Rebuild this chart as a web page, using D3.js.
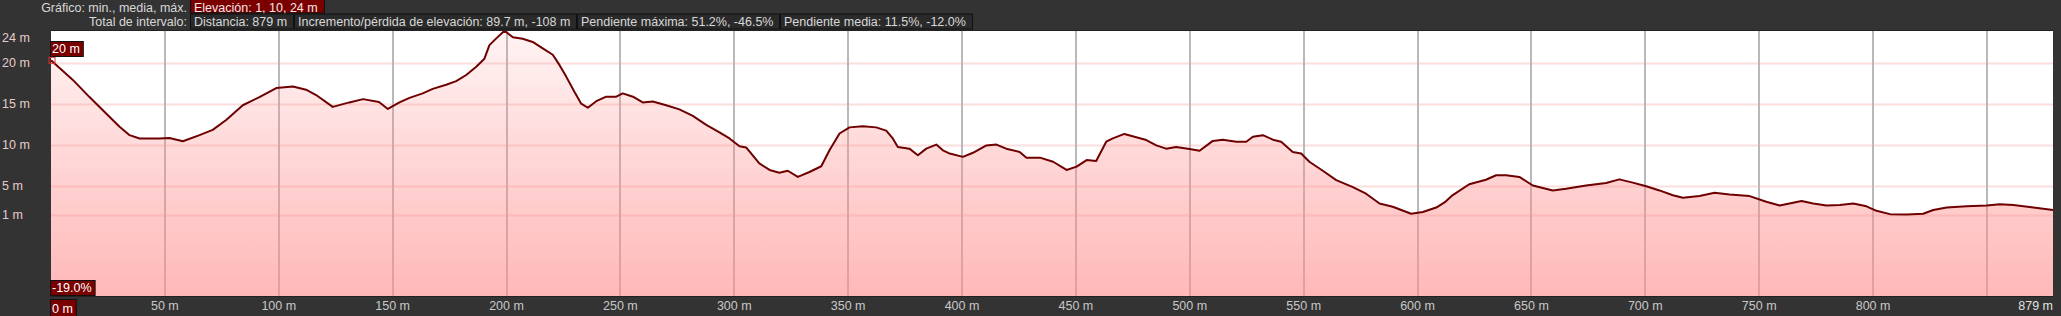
<!DOCTYPE html>
<html>
<head>
    <meta charset="utf-8">
    <title></title>
    <script src="https://cdn.jsdelivr.net/npm/d3@7"></script>
    <style>
        html, body { margin: 0; padding: 0; background: #333; }
        svg { display: block; font-family: "Liberation Sans", Arial, sans-serif; }
    </style>
</head>
<body>
<div id="chart"></div>
<script>
// ======================
// data
// ======================
var distances = [0, 9.6, 16.9, 24.2, 30, 34.5, 38.9, 47.6, 52, 57.9, 65.2, 71, 76.9, 84.2, 91.5, 98.9,
    106.2, 112, 116.4, 123.7, 131, 137, 144, 147.9, 153, 157.4, 163.2, 167.6, 173.5, 177.9, 182.3,
    186.7, 190.3, 192.5, 195.5, 199.1, 202.8, 207.1, 211.5, 215.9, 220.3, 223.3, 226.2, 229.8, 232.8,
    235.7, 239.4, 243.8, 248.2, 251, 255.5, 259.8, 264.2, 270.1, 275.9, 281.8, 287.7, 293.5, 297.9,
    302.3, 305.2, 311, 315.5, 319.8, 323.5, 327.9, 333, 338.2, 341.8, 346.2, 350.6, 356.4, 362.3,
    366.7, 369.6, 371.8, 376.9, 380.6, 384.3, 388.7, 391.6, 394.6, 400.4, 404.8, 410.7, 415.1, 419.4,
    425.3, 428.3, 434.2, 440, 445.9, 450.3, 454.7, 458.9, 463.3, 466.2, 471.3, 476.5, 480.9, 485.3,
    489.6, 494, 499.9, 504.3, 510.1, 514.5, 520.4, 524.8, 527.7, 532.1, 536.5, 540.1, 545.2, 548.9,
    552.5, 558.4, 564.3, 571.6, 577.4, 583.3, 589.1, 597.2, 602.3, 608.2, 612, 615.3, 622.7, 630,
    634.5, 638.9, 644.7, 650.6, 659.4, 665.2, 674, 682.8, 688.6, 694.5, 700.4, 706.2, 712.1, 716.5,
    723.8, 730.4, 737, 745.8, 753.1, 759, 764.9, 768.6, 773.7, 779.6, 785.4, 791.3, 797.1, 801.5,
    807.4, 814.7, 822, 826.4, 832.3, 841.1, 849.9, 855.7, 861.6, 870.4, 879];
var elevations = [20.3, 17.9, 15.8, 13.8, 12.2, 11.15, 10.75, 10.75, 10.8, 10.4, 11.15, 11.8, 13.0, 14.8, 15.8, 16.9,
    17.1, 16.7, 16.05, 14.6, 15.15, 15.55, 15.2, 14.35, 15.15, 15.7, 16.25, 16.8, 17.3, 17.75, 18.5,
    19.5, 20.5, 22.2, 23.05, 24.0, 23.2, 23.0, 22.6, 21.8, 21.0, 19.7, 18.3, 16.45, 15.0,
    14.5, 15.3, 15.85, 15.85, 16.25, 15.85, 15.15, 15.25, 14.8, 14.3, 13.5, 12.4, 11.5, 10.75,
    9.8, 9.65, 7.7, 6.9, 6.55, 6.8, 6.05, 6.65, 7.35, 9.3, 11.35, 12.1, 12.25, 12.1,
    11.7, 10.75, 9.7, 9.5, 8.7, 9.5, 10.0, 9.3, 8.9, 8.5, 9.0, 9.9, 10.0, 9.5,
    9.1, 8.4, 8.4, 7.9, 6.9, 7.3, 8.1, 8.0, 10.35, 10.75, 11.3, 10.9, 10.55, 9.9,
    9.5, 9.7, 9.45, 9.25, 10.45, 10.6, 10.35, 10.35, 10.95, 11.15, 10.6, 10.35, 9.1, 8.9,
    7.9, 6.8, 5.65, 4.77, 3.87, 2.52, 2.07, 1.1, 1.34, 1.96, 2.7, 3.65, 5.15, 5.7,
    6.25, 6.25, 6.05, 5.0, 4.32, 4.55, 5.0, 5.3, 5.75, 5.35, 4.89, 4.32, 3.65, 3.31,
    3.54, 3.99, 3.76, 3.54, 2.75, 2.24, 2.63, 2.86, 2.52, 2.24, 2.3, 2.52, 2.13, 1.51,
    1.05, 1.0, 1.11, 1.62, 1.96, 2.13, 2.24, 2.41, 2.3, 1.96, 1.62];

var yTicks = [24, 20, 15, 10, 5, 1];
var xGrid = [50, 100, 150, 200, 250, 300, 350, 400, 450, 500, 550, 600, 650, 700, 750, 800, 850];
var xLabels = [50, 100, 150, 200, 250, 300, 350, 400, 450, 500, 550, 600, 650, 700, 750, 800];
var totalDistance = 879;

var summaryRow = ['Elevación: 1, 10, 24 m'];
var intervalRow = ['Distancia: 879 m', 'Incremento/pérdida de elevación: 89.7 m, -108 m',
    'Pendiente máxima: 51.2%, -46.5%', 'Pendiente media: 11.5%, -12.0%'];
var startLabel = '20 m';
var slopeLabel = '-19.0%';

// ======================
// layout
// ======================
var width = 2061,
    height = 316;
var plot = {left: 51, right: 2053, top: 31, bottom: 296};
var fontSize = 12.5;

var svg = d3.select('#chart').append('svg')
        .attr('width', width)
        .attr('height', height);

svg.append('rect')
        .attr('width', width)
        .attr('height', height)
        .attr('fill', '#333');

var x = d3.scaleLinear()
        .domain([0, totalDistance])
        .range([plot.left, plot.right]);

// the source chart spaces its low ticks a bit tighter, so a piecewise scale
var y = d3.scaleLinear()
        .domain([1, 5, 20, 24])
        .range([214.5, 185.5, 62.7, 30.8]);

var points = distances.map(function (d, i) {
    return {d: d, e: elevations[i]};
});

// ======================
// plot background + grid
// ======================
var defs = svg.append('defs');
var grad = defs.append('linearGradient')
        .attr('id', 'fillGrad')
        .attr('gradientUnits', 'userSpaceOnUse')
        .attr('x1', 0).attr('y1', plot.top)
        .attr('x2', 0).attr('y2', plot.bottom);
grad.append('stop').attr('offset', '0%').attr('stop-color', '#ff8c8c').attr('stop-opacity', 0.1);
grad.append('stop').attr('offset', '100%').attr('stop-color', '#ff8c8c').attr('stop-opacity', 0.62);

svg.append('rect')
        .attr('x', plot.left)
        .attr('y', plot.top)
        .attr('width', plot.right - plot.left)
        .attr('height', plot.bottom - plot.top)
        .attr('fill', '#fff');

svg.append('g')
        .selectAll('line')
        .data(yTicks.slice(1))
        .enter().append('line')
        .attr('x1', plot.left)
        .attr('x2', plot.right)
        .attr('y1', function (d) { return Math.round(y(d)) + 0.5; })
        .attr('y2', function (d) { return Math.round(y(d)) + 0.5; })
        .attr('stroke', '#fbdede')
        .attr('stroke-width', 2);

svg.append('g')
        .selectAll('line')
        .data(xGrid)
        .enter().append('line')
        .attr('x1', function (d) { return Math.round(x(d)); })
        .attr('x2', function (d) { return Math.round(x(d)); })
        .attr('y1', plot.top)
        .attr('y2', plot.bottom)
        .attr('stroke', '#b9b9b9')
        .attr('stroke-width', 2);

// ======================
// profile
// ======================
var area = d3.area()
        .x(function (p) { return x(p.d); })
        .y0(plot.bottom)
        .y1(function (p) { return y(p.e); });

var line = d3.line()
        .x(function (p) { return x(p.d); })
        .y(function (p) { return y(p.e); });

svg.append('path')
        .datum(points)
        .attr('d', area)
        .attr('fill', 'url(#fillGrad)');

svg.append('path')
        .datum(points)
        .attr('d', line)
        .attr('fill', 'none')
        .attr('stroke', '#6e0000')
        .attr('stroke-width', 2)
        .attr('stroke-linejoin', 'round');

// start marker
svg.append('rect')
        .attr('x', x(points[0].d) - 2)
        .attr('y', y(points[0].e) - 3)
        .attr('width', 6)
        .attr('height', 6)
        .attr('fill', 'none')
        .attr('stroke', '#e03030')
        .attr('stroke-width', 1);

// plot frame lines
svg.append('line')
        .attr('x1', plot.left).attr('x2', plot.right)
        .attr('y1', plot.top - 0.5).attr('y2', plot.top - 0.5)
        .attr('stroke', '#222');
svg.append('line')
        .attr('x1', plot.left).attr('x2', plot.right)
        .attr('y1', plot.bottom + 0.5).attr('y2', plot.bottom + 0.5)
        .attr('stroke', '#222');

// ======================
// axes labels
// ======================
svg.append('g')
        .selectAll('text')
        .data(yTicks)
        .enter().append('text')
        .attr('x', 2)
        .attr('y', function (d) { return Math.max(y(d), 37.5) + 4.5; })
        .attr('fill', '#e6cccc')
        .attr('font-size', fontSize)
        .text(function (d) { return d + ' m'; });

svg.append('g')
        .selectAll('text')
        .data(xLabels)
        .enter().append('text')
        .attr('x', function (d) { return x(d); })
        .attr('y', 310)
        .attr('text-anchor', 'middle')
        .attr('fill', '#c8c8c8')
        .attr('font-size', fontSize)
        .text(function (d) { return d + ' m'; });

svg.append('text')
        .attr('x', plot.right)
        .attr('y', 310)
        .attr('text-anchor', 'end')
        .attr('fill', '#e0e0e0')
        .attr('font-size', fontSize)
        .text(totalDistance + ' m');

// red boxed labels
function redBox(bx, by, text, h) {
    var g = svg.append('g');
    var t = g.append('text')
            .attr('x', bx + 2)
            .attr('y', by + h - 3.5)
            .attr('fill', '#fff')
            .attr('font-size', fontSize)
            .text(text);
    var w = t.node().getComputedTextLength() + 5;
    g.insert('rect', 'text')
            .attr('x', bx + 0.5)
            .attr('y', by + 0.5)
            .attr('width', w)
            .attr('height', h)
            .attr('fill', '#7a0000')
            .attr('stroke', '#111');
}
redBox(50, 41, startLabel, 15);
redBox(50, 280, slopeLabel, 15);
redBox(50, 299, '0 m', 17);

// ======================
// header
// ======================
svg.append('text')
        .attr('x', 187)
        .attr('y', 11.5)
        .attr('text-anchor', 'end')
        .attr('fill', '#d8d8d8')
        .attr('font-size', fontSize)
        .text('Gráfico: min., media, máx.');
svg.append('text')
        .attr('x', 187)
        .attr('y', 26)
        .attr('text-anchor', 'end')
        .attr('fill', '#d8d8d8')
        .attr('font-size', fontSize)
        .text('Total de intervalo:');

function headerRow(items, ry, rh, bg, fg, baseline) {
    var bx = 190;
    items.forEach(function (s) {
        var g = svg.append('g');
        var t = g.append('text')
                .attr('x', bx + 4)
                .attr('y', baseline)
                .attr('fill', fg)
                .attr('font-size', fontSize)
                .text(s);
        var w = Math.round(t.node().getComputedTextLength()) + 10;
        g.insert('rect', 'text')
                .attr('x', bx + 0.5)
                .attr('y', ry + 0.5)
                .attr('width', w)
                .attr('height', rh)
                .attr('fill', bg)
                .attr('stroke', '#111');
        bx += w + 1;
    });
}
headerRow(summaryRow, -1, 13.5, '#7a0000', '#f4e6e6', 11.5);
headerRow(intervalRow, 13.5, 15, '#2a2a2a', '#d8d8d8', 26);
</script>
</body>
</html>
